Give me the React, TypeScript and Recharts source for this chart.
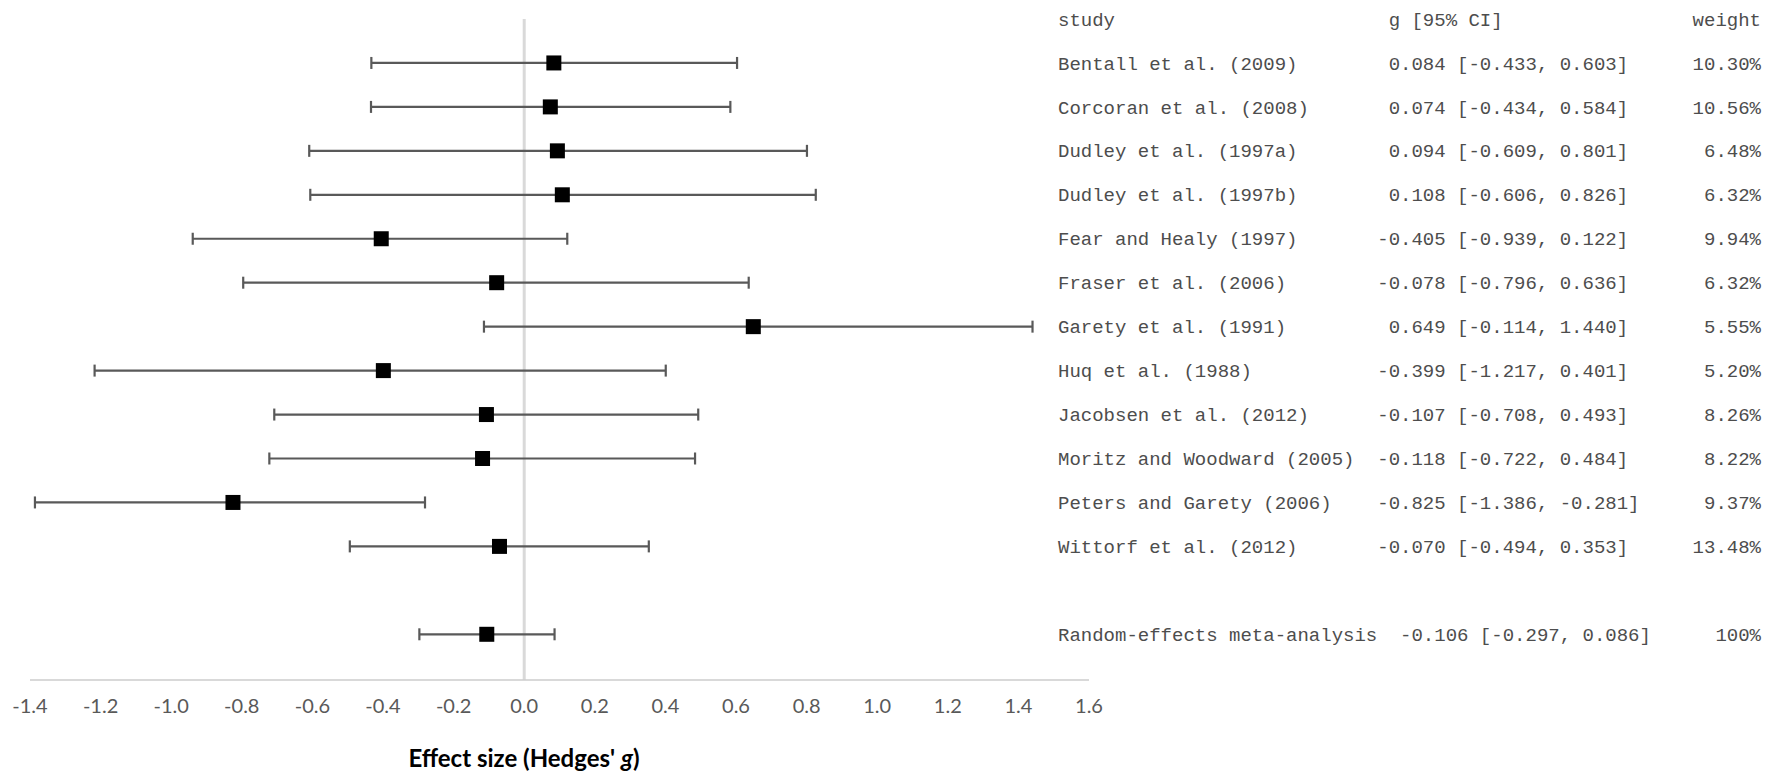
import React from "react"
import { ErrorBar, ReferenceLine, Scatter, ScatterChart, XAxis, YAxis } from "recharts"

// studies in the meta-analysis, top to bottom
const studies = [
    "Bentall et al. (2009)",
    "Corcoran et al. (2008)",
    "Dudley et al. (1997a)",
    "Dudley et al. (1997b)",
    "Fear and Healy (1997)",
    "Fraser et al. (2006)",
    "Garety et al. (1991)",
    "Huq et al. (1988)",
    "Jacobsen et al. (2012)",
    "Moritz and Woodward (2005)",
    "Peters and Garety (2006)",
    "Wittorf et al. (2012)",
]
const effect = [0.084, 0.074, 0.094, 0.108, -0.405, -0.078, 0.649, -0.399, -0.107, -0.118, -0.825, -0.070]
const ciLow = [-0.433, -0.434, -0.609, -0.606, -0.939, -0.796, -0.114, -1.217, -0.708, -0.722, -1.386, -0.494]
const ciHigh = [0.603, 0.584, 0.801, 0.826, 0.122, 0.636, 1.440, 0.401, 0.493, 0.484, -0.281, 0.353]
const weights = [10.30, 10.56, 6.48, 6.32, 9.94, 6.32, 5.55, 5.20, 8.26, 8.22, 9.37, 13.48]

// pooled estimate
const pooledName = "Random-effects meta-analysis"
const pooled = { g: -0.106, low: -0.297, high: 0.086, weight: 100 }

const xTicks = [-1.4, -1.2, -1.0, -0.8, -0.6, -0.4, -0.2, 0, 0.2, 0.4, 0.6, 0.8, 1.0, 1.2, 1.4, 1.6]

// row 0 is the header, 13 stays empty, 14 is the pooled result
const pooledRow = 14
const rowTicks = [0, ...studies.map((_, i) => i + 1), pooledRow]

interface Row {
    row: number
    name: string
    g: number
    low: number
    high: number
    weight: number
    err: [number, number]
}

const rows: Row[] = [
    ...studies.map((name, i) => ({
        row: i + 1,
        name,
        g: effect[i],
        low: ciLow[i],
        high: ciHigh[i],
        weight: weights[i],
        err: [effect[i] - ciLow[i], ciHigh[i] - effect[i]] as [number, number],
    })),
    {
        row: pooledRow,
        name: pooledName,
        g: pooled.g,
        low: pooled.low,
        high: pooled.high,
        weight: pooled.weight,
        err: [pooled.g - pooled.low, pooled.high - pooled.g] as [number, number],
    },
]

const MONO = "'Liberation Mono', 'DejaVu Sans Mono', monospace"
const SANS = "Lato, 'Open Sans', sans-serif"

const num = (v: number) => v.toFixed(3)
const signed = (v: number) => (v >= 0 ? " " : "") + num(v)
const pct = (w: number) => (w === 100 ? "100%" : w.toFixed(2) + "%")

const lineText = (r: Row) =>
    r.name.padEnd(26) + "  " + signed(r.g) + " [" + num(r.low) + ", " + num(r.high) + "]"

const TableTick = (props: any) => {
    const { x, y, payload } = props
    const r = rows.find(d => d.row === payload.value)
    const left = r ? lineText(r) : "study".padEnd(26) + "   g [95% CI]"
    return (
        <g fontFamily={MONO} fontSize={19} fill="#4d4d4d">
            <text x={x - 31} y={y} dy="0.35em" style={{ whiteSpace: "pre" }}>
                {left}
            </text>
            {r ? (
                <text x={x + 672} y={y} dy="0.35em" textAnchor="end">
                    {pct(r.weight)}
                </text>
            ) : (
                <text x={x + 672} y={y} dy="0.35em" textAnchor="end">
                    weight
                </text>
            )}
        </g>
    )
}

const AxisTitle = (props: any) => {
    const { x, y } = props.viewBox
    return (
        <text x={x + 494} y={y + 87} textAnchor="middle" fontFamily={SANS} fontSize={24} fontWeight="bold" fill="#000">
            Effect size (Hedges'{" "}
            <tspan fontStyle="italic">g</tspan>)
        </text>
    )
}

const Square = (props: any) => {
    const { cx, cy } = props
    return <rect x={cx - 7.5} y={cy - 7.5} width={15} height={15} fill="#000" />
}

const ForestPlot = () => (
    <div style={{ position: "absolute", left: 0, top: 0 }}>
        <ScatterChart width={1766} height={771} margin={{ top: 19, right: 0, bottom: 0, left: 30 }}>
            <XAxis
                dataKey="g"
                type="number"
                domain={[-1.4, 1.6]}
                ticks={xTicks}
                tickFormatter={(v: number) => v.toFixed(1)}
                height={91}
                stroke="#cccccc"
                strokeWidth={1.5}
                tickLine={false}
                tickSize={0}
                tickMargin={19}
                tick={{ fill: "#595959", fontSize: 20, fontFamily: SANS }}
                interval={0}
                label={<AxisTitle />}
            />
            <YAxis
                dataKey="row"
                type="number"
                orientation="right"
                domain={[0, 15.04]}
                reversed
                ticks={rowTicks}
                interval={0}
                width={677}
                axisLine={false}
                tickLine={false}
                tickSize={0}
                tickMargin={0}
                tick={<TableTick />}
            />
            <ReferenceLine x={0} stroke="#d9d9d9" strokeWidth={3} />
            <Scatter data={rows} shape={<Square />} isAnimationActive={false}>
                <ErrorBar
                    dataKey="err"
                    direction="x"
                    width={6}
                    stroke="#595959"
                    strokeWidth={2.2}
                    isAnimationActive={false}
                />
            </Scatter>
        </ScatterChart>
    </div>
)

export default function App() {
    return <ForestPlot />
}
